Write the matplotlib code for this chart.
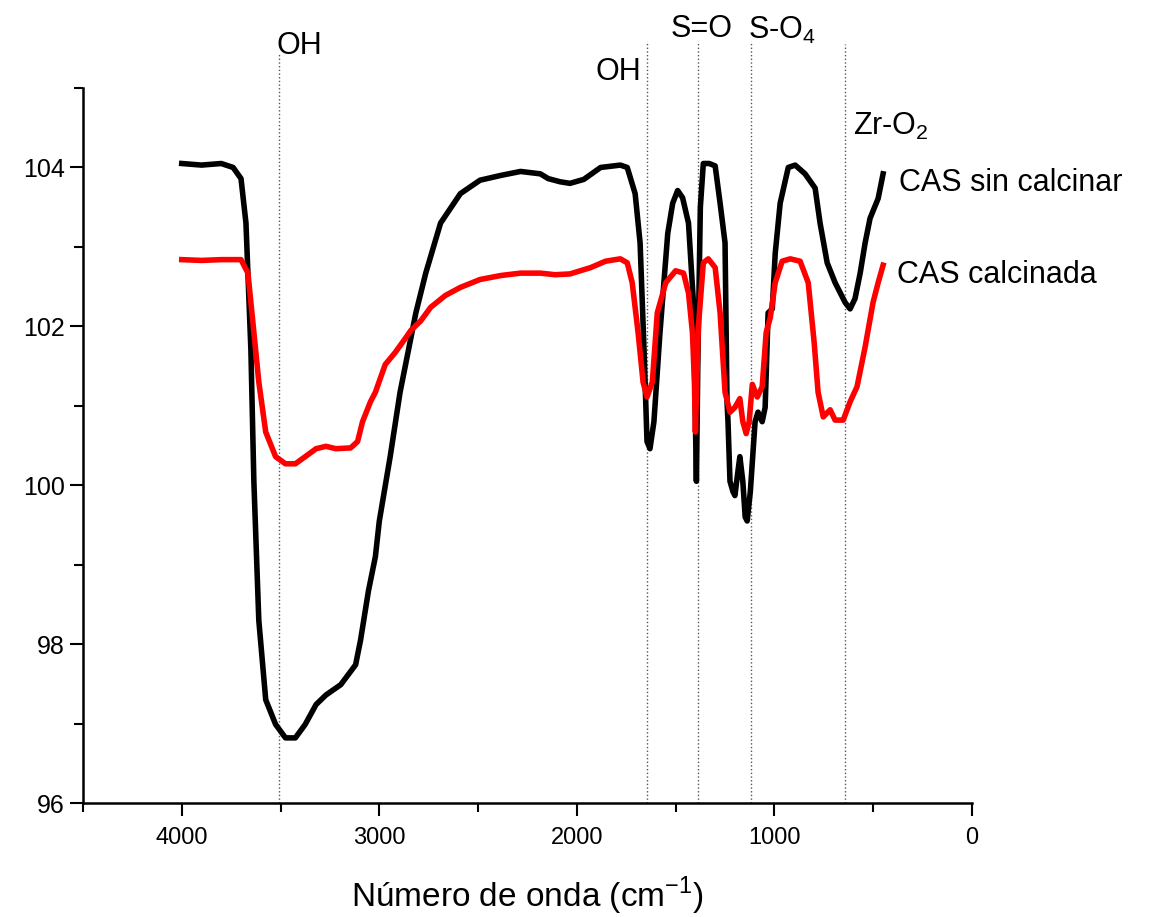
import numpy as np
import matplotlib.pyplot as plt
from matplotlib.ticker import MultipleLocator

plt.rcParams['font.family'] = ['Liberation Sans', 'DejaVu Sans']
plt.rcParams['mathtext.fontset'] = 'custom'
plt.rcParams['mathtext.rm'] = 'Liberation Sans'

# CAS sin calcinar (black)
wn_raw = [4000, 3900, 3800, 3740, 3700, 3675, 3650, 3635, 3610, 3575, 3525, 3475,
          3425, 3375, 3320, 3270, 3195, 3120, 3095, 3055, 3020, 3000, 2945, 2895,
          2815, 2765, 2690, 2590, 2490, 2385, 2285, 2185, 2145, 2085, 2035, 1965,
          1880, 1780, 1745, 1705, 1680, 1660, 1645, 1630, 1610, 1580, 1540, 1515,
          1490, 1465, 1435, 1410, 1400, 1395, 1388, 1375, 1360, 1330, 1300, 1275,
          1250, 1240, 1235, 1225, 1210, 1200, 1185, 1175, 1160, 1148, 1138, 1122,
          1098, 1083, 1062, 1047, 1032, 1011, 996, 971, 930, 895, 845, 794, 769,
          733, 693, 642, 617, 592, 566, 541, 516, 475, 450]
t_raw = [104.05, 104.03, 104.05, 104.0, 103.86, 103.3, 101.7, 100.05, 98.3, 97.3, 96.99, 96.82,
         96.82, 96.99, 97.24, 97.36, 97.49, 97.74, 98.05, 98.67, 99.1, 99.55, 100.36, 101.17,
         102.17, 102.67, 103.3, 103.67, 103.84, 103.9, 103.95, 103.92, 103.86, 103.82, 103.8, 103.85,
         104.0, 104.03, 104.0, 103.67, 103.05, 101.7, 100.55, 100.46, 100.8, 101.9, 103.17, 103.55,
         103.71, 103.62, 103.3, 102.3, 100.8, 100.05, 101.5, 103.5, 104.05, 104.05, 104.02, 103.55,
         103.05, 101.05, 100.8, 100.05, 99.92, 99.87, 100.17, 100.36, 100.05, 99.6, 99.55, 99.92,
         100.8, 100.92, 100.8, 100.98, 102.17, 102.22, 102.92, 103.55, 104.0, 104.03, 103.92, 103.74, 103.3,
         102.8, 102.55, 102.3, 102.22, 102.35, 102.67, 103.05, 103.36, 103.61, 103.92]

# CAS calcinada (red)
wn_calc = [4000, 3900, 3800, 3700, 3665, 3640, 3610, 3575, 3525, 3475, 3425, 3375,
           3320, 3270, 3220, 3145, 3110, 3085, 3045, 3020, 2970, 2920, 2865, 2840,
           2790, 2740, 2665, 2590, 2490, 2385, 2285, 2185, 2110, 2035, 1930, 1855,
           1780, 1745, 1720, 1690, 1665, 1645, 1618, 1593, 1550, 1500, 1460, 1435,
           1415, 1405, 1400, 1385, 1360, 1335, 1300, 1275, 1250, 1225, 1200, 1175,
           1160, 1143, 1128, 1112, 1087, 1062, 1042, 1021, 996, 961, 920, 870, 829,
           799, 779, 753, 718, 693, 652, 617, 582, 541, 501, 475, 450]
t_calc = [102.84, 102.83, 102.84, 102.84, 102.67, 102.05, 101.3, 100.67, 100.36, 100.27, 100.27, 100.36,
          100.46, 100.49, 100.46, 100.47, 100.55, 100.8, 101.05, 101.17, 101.52, 101.67, 101.86, 101.95,
          102.07, 102.24, 102.39, 102.49, 102.59, 102.64, 102.67, 102.67, 102.65, 102.66, 102.74, 102.82,
          102.85, 102.8, 102.55, 101.92, 101.3, 101.11, 101.3, 102.17, 102.55, 102.7, 102.67, 102.42,
          101.92, 101.3, 100.67, 102.0, 102.8, 102.85, 102.74, 102.17, 101.17, 100.92, 100.98, 101.09,
          100.8, 100.65, 100.8, 101.27, 101.11, 101.24, 101.92, 102.11, 102.55, 102.82, 102.85, 102.82, 102.55,
          101.8, 101.17, 100.86, 100.95, 100.82, 100.82, 101.05, 101.24, 101.74, 102.3, 102.55, 102.77]

band_pos = [3510, 1643, 1386, 1118, 642]
band_top = [105.43, 105.59, 105.59, 105.59, 105.55]
band_labels = ['OH', 'OH', 'S=O', 'S-O$_4$', 'Zr-O$_2$']
label_xy = [(3405, 105.53), (1790, 105.2), (1370, 105.74), (960, 105.72), (410, 104.52)]

fig = plt.figure(figsize=(11.67, 9.17), dpi=100)
ax = fig.add_axes([0.0711, 0.1243, 0.7618, 0.7797])

for x, top in zip(band_pos, band_top):
    ax.plot([x, x], [96, top], ls=':', color='#555555', lw=1.0, clip_on=False, zorder=1)

ax.plot(wn_raw, t_raw, color='black', lw=4, zorder=3)
ax.plot(wn_calc, t_calc, color='red', lw=4, zorder=4)

for lab, (x, y) in zip(band_labels, label_xy):
    ax.text(x, y, lab, fontsize=22, ha='center', va='center', clip_on=False)

ax.text(369, 103.8, 'CAS sin calcinar', fontsize=22, ha='left', va='center', clip_on=False)
ax.text(379, 102.65, 'CAS calcinada', fontsize=22, ha='left', va='center', clip_on=False)

ax.set_xlim(4500, 0)
ax.set_ylim(96, 105)
ax.xaxis.set_major_locator(MultipleLocator(1000))
ax.xaxis.set_minor_locator(MultipleLocator(500))
ax.yaxis.set_major_locator(MultipleLocator(2))
ax.yaxis.set_minor_locator(MultipleLocator(1))
ax.spines['top'].set_visible(False)
ax.spines['right'].set_visible(False)
for s in ['left', 'bottom']:
    ax.spines[s].set_linewidth(1.8)
ax.tick_params(which='both', direction='out', width=1.5)
ax.tick_params(which='major', length=9.5)
ax.tick_params(which='minor', length=6.5)
ax.tick_params(axis='x', labelsize=17, pad=8)
ax.tick_params(axis='y', labelsize=18)
ax.set_xlabel('Número de onda (cm$^{-1}$)', fontsize=24, labelpad=18)

fig.savefig('out.png', dpi=100)
